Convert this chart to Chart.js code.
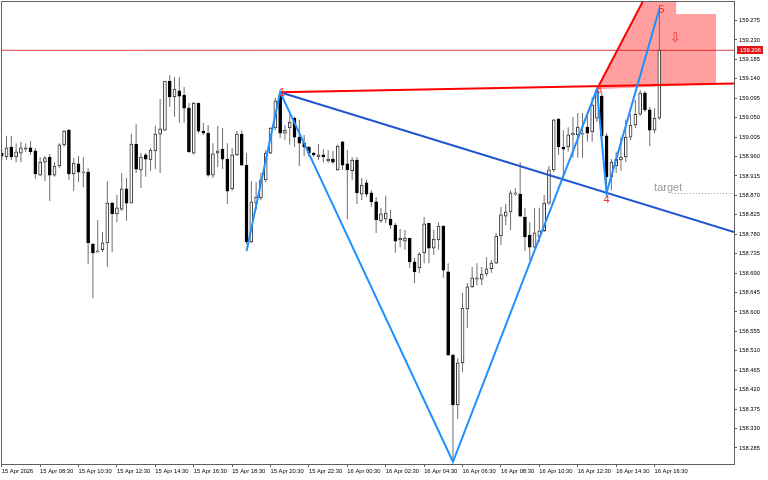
<!DOCTYPE html>
<html>
<head>
<meta charset="utf-8">
<script src="https://cdn.jsdelivr.net/npm/chart.js@4.4.1/dist/chart.umd.min.js"></script>
<style>
  html, body { margin: 0; padding: 0; background: #fff; }
</style>
</head>
<body>
<canvas id="chart" width="768" height="480"></canvas>
<script>
// USDJPY-style M15 bars, 15 Apr 06:30 .. 16 Apr 16:45
const opens = [158.968,158.959,158.982,158.959,158.968,158.977,158.980,158.973,158.917,158.947,
  158.959,158.917,158.938,158.987,159.021,158.920,158.943,158.922,158.924,158.757,
  158.739,158.744,158.760,158.852,158.827,158.838,158.885,158.852,158.989,158.929,
  158.964,158.952,158.973,159.012,159.021,159.135,159.098,159.112,159.102,159.072,
  158.968,159.084,159.019,159.014,158.917,158.968,158.977,158.954,158.885,158.964,
  159.012,158.940,158.762,158.852,158.864,158.906,158.968,159.026,159.102,159.014,
  159.026,159.049,159.005,158.991,158.982,158.968,158.959,158.964,158.950,158.954,
  158.929,158.994,158.943,158.927,158.952,158.873,158.899,158.876,158.855,158.811,
  158.815,158.815,158.801,158.767,158.764,158.771,158.716,158.702,158.737,158.806,
  158.748,158.767,158.799,158.693,158.500,158.385,158.482,158.607,158.658,158.676,
  158.676,158.688,158.700,158.713,158.776,158.822,158.832,158.873,158.873,158.820,
  158.778,158.750,158.774,158.788,158.852,158.929,159.047,158.982,158.982,159.010,
  159.010,159.012,159.028,159.017,159.049,159.100,159.008,158.913,158.938,158.952,
  158.959,159.005,159.033,159.058,159.107,159.068,159.021,159.049];
const highs = [158.977,159.008,159.008,158.991,158.994,158.991,158.996,158.980,158.959,158.961,
  158.966,158.947,158.991,159.021,159.024,158.957,158.961,158.959,158.933,158.760,
  158.813,158.785,158.903,158.855,158.871,158.922,158.910,159.012,159.035,158.968,
  158.968,158.980,159.031,159.093,159.135,159.149,159.144,159.144,159.121,159.084,
  159.086,159.084,159.038,159.033,158.991,159.031,159.026,158.991,158.980,159.019,
  159.021,158.968,158.903,158.901,158.922,158.975,159.028,159.096,159.109,159.033,
  159.058,159.052,159.045,159.010,158.984,158.971,158.989,158.977,158.975,158.973,
  158.987,158.996,158.975,158.959,158.959,158.910,158.906,158.882,158.866,158.841,
  158.869,158.836,158.806,158.792,158.790,158.771,158.725,158.739,158.820,158.806,
  158.790,158.808,158.801,158.713,158.503,158.493,158.644,158.667,158.704,158.713,
  158.704,158.727,158.720,158.783,158.843,158.850,158.882,158.887,158.947,158.841,
  158.808,158.841,158.841,158.871,158.938,159.047,159.049,159.021,159.028,159.052,
  159.061,159.061,159.061,159.098,159.116,159.109,159.014,158.954,158.971,159.005,
  159.045,159.058,159.091,159.114,159.112,159.075,159.072,159.302];
const lows = [158.952,158.952,158.952,158.947,158.947,158.971,158.964,158.908,158.915,158.903,
  158.857,158.913,158.933,158.982,158.906,158.880,158.901,158.889,158.711,158.632,
  158.737,158.739,158.704,158.739,158.808,158.834,158.811,158.852,158.922,158.887,
  158.913,158.927,158.931,158.922,159.019,159.075,159.052,159.038,159.038,158.968,
  158.964,159.014,159.010,158.913,158.910,158.936,158.931,158.850,158.880,158.961,
  158.938,158.757,158.760,158.836,158.859,158.901,158.966,159.021,159.003,158.998,
  158.987,158.982,158.938,158.961,158.959,158.959,158.952,158.947,158.945,158.943,
  158.927,158.929,158.815,158.906,158.850,158.859,158.866,158.843,158.783,158.806,
  158.806,158.792,158.737,158.750,158.744,158.702,158.667,158.690,158.713,158.713,
  158.732,158.744,158.679,158.500,158.253,158.352,158.461,158.563,158.656,158.662,
  158.662,158.683,158.690,158.711,158.755,158.801,158.790,158.869,158.820,158.741,
  158.720,158.748,158.762,158.785,158.848,158.924,158.964,158.906,158.971,158.957,
  158.957,158.957,158.994,158.994,159.040,159.003,158.876,158.882,158.922,158.927,
  158.947,158.998,159.026,159.054,159.063,158.984,159.014,159.045];
const closes = [158.961,158.980,158.959,158.971,158.980,158.980,158.971,158.920,158.947,158.957,
  158.917,158.938,158.987,159.019,158.920,158.945,158.924,158.924,158.760,158.737,
  158.741,158.760,158.852,158.827,158.841,158.885,158.852,158.989,158.931,158.959,
  158.954,158.975,159.012,159.024,159.135,159.098,159.116,159.100,159.072,158.971,
  159.084,159.019,159.014,158.917,158.966,158.973,158.954,158.880,158.964,159.012,
  158.940,158.762,158.855,158.866,158.906,158.968,159.026,159.089,159.014,159.021,
  159.040,159.005,158.991,158.982,158.968,158.964,158.964,158.959,158.954,158.947,
  158.984,158.940,158.929,158.952,158.876,158.894,158.873,158.855,158.813,158.827,
  158.829,158.801,158.764,158.771,158.771,158.716,158.693,158.734,158.804,158.748,
  158.769,158.799,158.697,158.500,158.385,158.482,158.609,158.658,158.679,158.679,
  158.688,158.700,158.713,158.776,158.825,158.832,158.876,158.876,158.822,158.774,
  158.750,158.783,158.788,158.852,158.929,159.045,158.982,158.977,159.010,159.014,
  159.028,159.014,159.014,159.079,159.114,159.008,158.913,158.947,158.954,158.959,
  159.005,159.033,159.058,159.107,159.068,159.021,159.049,159.206];

const timeLabels = ['15 Apr 2026','15 Apr 08:30','15 Apr 10:30','15 Apr 12:30','15 Apr 14:30','15 Apr 16:30',
  '15 Apr 18:30','15 Apr 20:30','15 Apr 22:30','16 Apr 00:30','16 Apr 02:30','16 Apr 04:30',
  '16 Apr 06:30','16 Apr 08:30','16 Apr 10:30','16 Apr 12:30','16 Apr 14:30','16 Apr 16:30'];
const timeLabelBars = [0,8,16,24,32,40,48,56,64,72,80,88,96,104,112,120,128,136];
const priceTicks = ['159.275','159.230','159.185','159.140','159.095','159.050','159.005','158.960',
  '158.915','158.870','158.825','158.780','158.735','158.690','158.645','158.600','158.555',
  '158.510','158.465','158.420','158.375','158.330','158.285'];

// zigzag pattern points
const zigBars = [51, 58, 94, 124, 126, 137];
const zigPrices = [158.741, 159.109, 158.253, 159.116, 158.876, 159.302];
const zigNames = ['', '1', '2', '3', '4', '5'];

// extra lines drawn by the pattern
const trendBars = [58, 152.55];
const trendPrices = [159.109, 158.785];
const topLineBars = [58, 152.55];
const topLinePrices = [159.109, 159.129];
const steepBars = [124, 135.9];
const steepPrices = [159.116, 159.369];
const zoneBars = [124, 135.9, 140.5, 140.5, 148.8, 148.8];
const zonePrices = [159.116, 159.369, 159.369, 159.290, 159.290, 159.128];

const currentPrice = 159.206;
const targetPrice = 158.876;
const targetText = 'target';
const arrowBar = 140.3;
const arrowPrice = 159.234;

const X_MIN = -0.15, X_MAX = 152.55;
const Y_MIN = 158.2479, Y_MAX = 159.3202;
const FONT = 'Liberation Sans';

const pts = (bars, prices) => bars.map((b, i) => ({x: b, y: prices[i]}));
const isUp = closes.map((c, i) => c >= opens[i]);

const overlayPlugin = {
    id: 'overlay',
    beforeDatasetsDraw(chart) {
        const {ctx, chartArea: a, scales: {x, y}} = chart;
        ctx.save();
        ctx.beginPath();
        ctx.rect(a.left, a.top, a.right - a.left, a.bottom - a.top);
        ctx.clip();
        ctx.fillStyle = 'rgba(255, 95, 95, 0.6)';
        ctx.beginPath();
        zoneBars.forEach((b, i) => {
            const px = x.getPixelForValue(b), py = y.getPixelForValue(zonePrices[i]);
            if (i) ctx.lineTo(px, py); else ctx.moveTo(px, py);
        });
        ctx.closePath();
        ctx.fill();
        ctx.restore();
    },
    afterDatasetsDraw(chart) {
        const {ctx, chartArea: a, scales: {x, y}} = chart;
        ctx.save();
        ctx.beginPath();
        ctx.rect(a.left, a.top, a.right - a.left, a.bottom - a.top);
        ctx.clip();
        // point numbers
        ctx.font = `11px ${FONT}`;
        ctx.fillStyle = '#ff2a2a';
        ctx.textAlign = 'center';
        zigBars.forEach((b, i) => {
            if (!zigNames[i]) return;
            const px = x.getPixelForValue(b), py = y.getPixelForValue(zigPrices[i]);
            const low = (i > 0 && zigPrices[i] < zigPrices[i - 1]);
            ctx.textBaseline = low ? 'top' : 'middle';
            ctx.fillText(zigNames[i], px + (low ? 0 : 2), low ? py + 2 : py + 1);
        });
        // target
        const ty = Math.round(y.getPixelForValue(targetPrice)) + 0.5;
        ctx.strokeStyle = '#a0a0a0';
        ctx.lineWidth = 1;
        ctx.setLineDash([1, 2]);
        ctx.beginPath();
        ctx.moveTo(x.getPixelForValue(139.6), ty);
        ctx.lineTo(a.right, ty);
        ctx.stroke();
        ctx.setLineDash([]);
        ctx.font = `11px ${FONT}`;
        ctx.fillStyle = '#9a9a9a';
        ctx.textAlign = 'left';
        ctx.textBaseline = 'alphabetic';
        ctx.fillText(targetText, x.getPixelForValue(135.9), ty - 3);
        // sell arrow
        ctx.font = `13px "DejaVu Sans"`;
        ctx.fillStyle = '#f03030';
        ctx.textAlign = 'center';
        ctx.textBaseline = 'middle';
        ctx.fillText('\u21E9', x.getPixelForValue(arrowBar), y.getPixelForValue(arrowPrice));
        ctx.restore();
    },
    afterDraw(chart) {
        const {ctx, chartArea: a, scales: {y}} = chart;
        ctx.save();
        ctx.strokeStyle = '#606060';
        ctx.lineWidth = 1;
        ctx.beginPath();
        ctx.moveTo(a.left + 0.5, a.bottom);
        ctx.lineTo(a.left + 0.5, a.top + 0.5);
        ctx.lineTo(a.right, a.top + 0.5);
        ctx.stroke();
        // current price tag
        const py = y.getPixelForValue(currentPrice);
        ctx.fillStyle = '#e01414';
        ctx.fillRect(a.right + 3, Math.round(py) - 4, 26, 8);
        ctx.font = `5.8px ${FONT}`;
        ctx.fillStyle = '#ffffff';
        ctx.textAlign = 'left';
        ctx.textBaseline = 'middle';
        ctx.fillText(currentPrice.toFixed(3), a.right + 6, Math.round(py));
        ctx.restore();
    }
};

const ctx = document.getElementById('chart').getContext('2d');
new Chart(ctx, {
    type: 'bar',
    data: {
        datasets: [
            {
                type: 'line', label: 'zigzag', order: 1,
                data: pts(zigBars, zigPrices),
                borderColor: '#1e90ff', borderWidth: 2, pointRadius: 0, tension: 0, fill: false
            },
            {
                type: 'line', label: 'trend', order: 2,
                data: pts(trendBars, trendPrices),
                borderColor: '#1f56d0', borderWidth: 2, pointRadius: 0, fill: false
            },
            {
                type: 'line', label: 'top', order: 3,
                data: pts(topLineBars, topLinePrices),
                borderColor: '#ff0000', borderWidth: 2, pointRadius: 0, fill: false
            },
            {
                type: 'line', label: 'steep', order: 3,
                data: pts(steepBars, steepPrices),
                borderColor: '#ff0000', borderWidth: 2, pointRadius: 0, fill: false
            },
            {
                type: 'line', label: 'bid', order: 4,
                data: [{x: X_MIN, y: currentPrice}, {x: X_MAX, y: currentPrice}],
                borderColor: 'rgba(220, 30, 30, 0.85)', borderWidth: 1, pointRadius: 0, fill: false
            },
            {
                label: 'bodies', order: 5, grouped: false,
                data: closes.map((c, i) => ({x: i, y: [opens[i], c]})),
                backgroundColor: isUp.map(u => u ? '#ffffff' : '#000000'),
                borderColor: isUp.map(u => u ? '#303030' : '#000000'),
                borderWidth: 1, borderSkipped: false, barThickness: 3, minBarLength: 1
            },
            {
                label: 'wicks', order: 6, grouped: false,
                data: highs.map((h, i) => ({x: i, y: [lows[i], h]})),
                backgroundColor: '#6e6e6e', borderWidth: 0, barThickness: 1, inflateAmount: 0
            }
        ]
    },
    options: {
        responsive: false,
        animation: false,
        layout: {padding: {left: 1, top: 1, right: 0, bottom: 0}},
        plugins: {legend: {display: false}, tooltip: {enabled: false}},
        scales: {
            x: {
                type: 'linear', position: 'bottom', min: X_MIN, max: X_MAX, offset: false,
                afterBuildTicks: s => { s.ticks = timeLabelBars.map(v => ({value: v})); },
                afterFit: s => { s.height = 16; s.paddingLeft = 0; s.paddingRight = 0; },
                ticks: {
                    autoSkip: false, maxRotation: 0, minRotation: 0, align: 'start', padding: 1,
                    color: '#000', font: {family: FONT, size: 5.8},
                    callback: v => { const k = timeLabelBars.indexOf(v); return k >= 0 ? timeLabels[k] : ''; }
                },
                grid: {drawOnChartArea: false, drawTicks: true, tickLength: 3, color: '#606060', offset: false},
                border: {display: true, color: '#606060', width: 1}
            },
            y: {
                type: 'linear', position: 'right', min: Y_MIN, max: Y_MAX,
                afterBuildTicks: s => { s.ticks = priceTicks.map(t => ({value: parseFloat(t)})); },
                afterFit: s => { s.width = 34; s.paddingTop = 0; s.paddingBottom = 0; },
                ticks: {
                    autoSkip: false, padding: 2, color: '#000', font: {family: FONT, size: 5.8},
                    callback: v => v.toFixed(3)
                },
                grid: {drawOnChartArea: false, drawTicks: true, tickLength: 3, color: '#606060'},
                border: {display: true, color: '#606060', width: 1}
            }
        }
    },
    plugins: [overlayPlugin]
});
</script>
</body>
</html>
